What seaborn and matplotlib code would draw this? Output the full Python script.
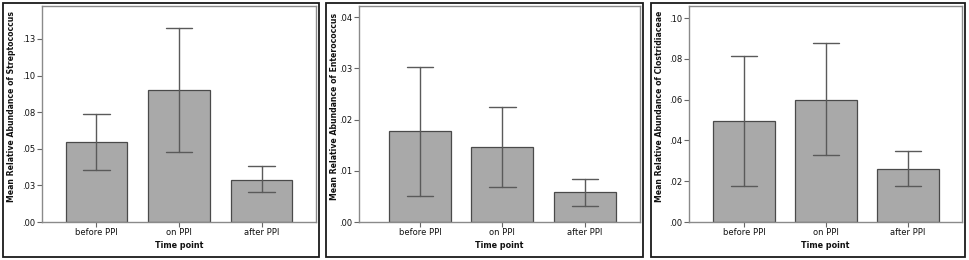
import matplotlib
matplotlib.use("Agg")
import matplotlib.pyplot as plt
from matplotlib.patches import Rectangle
import pandas as pd
import seaborn as sns

sns.set_style("white")
plt.rcParams['font.family'] = ['DejaVu Sans']

# data
time_points = ['before PPI', 'on PPI', 'after PPI']

strep_mean = [0.0546, 0.0904, 0.0289]
strep_lo = [0.0353, 0.0480, 0.0203]
strep_hi = [0.0740, 0.1325, 0.0383]

entero_mean = [0.0177, 0.0147, 0.0058]
entero_lo = [0.0051, 0.0069, 0.0031]
entero_hi = [0.0302, 0.0225, 0.0084]

clos_mean = [0.0495, 0.0600, 0.0260]
clos_lo = [0.0176, 0.0328, 0.0175]
clos_hi = [0.0815, 0.0876, 0.0346]

titles = ['Streptococcus', 'Enterococcus', 'Clostridiaceae']
yticks = [[0, 0.025, 0.05, 0.075, 0.10, 0.125],
          [0, 0.01, 0.02, 0.03, 0.04],
          [0, 0.02, 0.04, 0.06, 0.08, 0.10]]
yticklabels = [['.00', '.03', '.05', '.08', '.10', '.13'],
               ['.00', '.01', '.02', '.03', '.04'],
               ['.00', '.02', '.04', '.06', '.08', '.10']]
ymax = [0.1475, 0.0422, 0.1059]
xlims = [(-0.66, 2.66), (-0.74, 2.67), (-0.67, 2.66)]

# layout in pixels: (outer left, outer right, axes left, axes right)
W, H = 970, 260
panels = [(3, 319, 42, 316), (326, 643, 359, 640), (651, 965, 689, 962)]

fig = plt.figure(figsize=(W / 100, H / 100), dpi=100)

series = [(strep_mean, strep_lo, strep_hi),
          (entero_mean, entero_lo, entero_hi),
          (clos_mean, clos_lo, clos_hi)]

for i, (m, lo, hi) in enumerate(series):
    ol, orr, al, ar = panels[i]
    # outer panel frame
    fig.add_artist(Rectangle((ol / W, 3 / H), (orr - ol) / W, (H - 6) / H,
                             transform=fig.transFigure, fill=False,
                             edgecolor='#1a1a1a', linewidth=1.3))
    ax = fig.add_axes([al / W, 38 / H, (ar - al) / W, 216 / H])
    # lo / mean / hi rows, median gives the bar, min-max the whisker
    df = pd.DataFrame({'Time point': time_points * 3,
                       'value': lo + m + hi})
    sns.barplot(data=df, x='Time point', y='value', order=time_points,
                estimator='median', errorbar=lambda v: (v.min(), v.max()),
                color='#a9a9a9', saturation=1, width=0.75,
                edgecolor='#4a4a4a', linewidth=0.9,
                err_kws={'color': '#5a5a5a', 'linewidth': 1.0},
                capsize=0.32, ax=ax)
    ax.set_ylim(0, ymax[i])
    ax.set_xlim(*xlims[i])
    ax.set_yticks(yticks[i])
    ax.set_yticklabels(yticklabels[i], fontsize=6, color='#111111')
    ax.set_xticks(range(3))
    ax.set_xticklabels(time_points, fontsize=6, color='#111111')
    ax.set_xlabel('Time point', fontsize=5.8, fontweight='bold', color='#111111')
    ax.xaxis.set_label_coords(0.5, -19 / 216)
    ax.set_ylabel('Mean Relative Abundance of ' + titles[i], fontsize=5.6,
                  fontweight='bold', color='#111111')
    ax.yaxis.set_label_coords(-(al - ol - 13) / (ar - al), 0.537)
    ax.tick_params(axis='both', length=3.5, width=0.8, color='#666666',
                   pad=1, left=True, bottom=True)
    for s in ax.spines.values():
        s.set_color('#8a8a8a')
        s.set_linewidth(1.0)

plt.savefig('out.png', dpi=100)
